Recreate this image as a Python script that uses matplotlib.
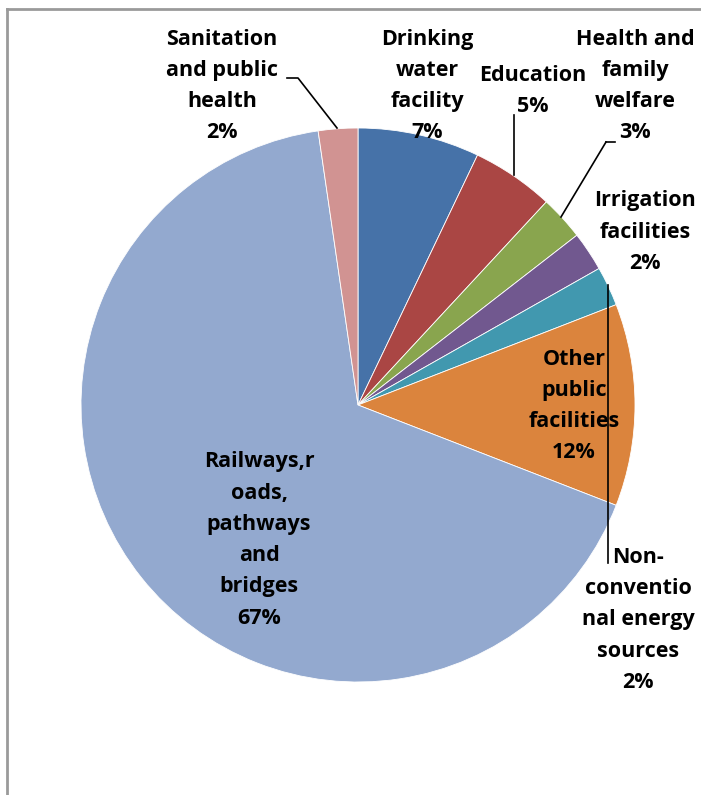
import matplotlib
matplotlib.use("Agg")
import matplotlib.pyplot as plt

categories = ["Drinking water facility", "Education", "Health and family welfare",
              "Irrigation facilities", "Non-conventional energy sources",
              "Other public facilities", "Railways,roads, pathways and bridges",
              "Sanitation and public health"]
values = [7.1, 4.8, 2.6, 2.3, 2.3, 11.8, 66.8, 2.3]
label_texts = ["Drinking\nwater\nfacility", "Education", "Health and\nfamily\nwelfare",
               "Irrigation\nfacilities", "Non-\nconventio\nnal energy\nsources",
               "Other\npublic\nfacilities", "Railways,r\noads,\npathways\nand\nbridges",
               "Sanitation\nand public\nhealth"]
colors = ["#4672A8", "#AA4644", "#89A54E", "#71588F", "#4198AF", "#DB843D", "#93A9CF", "#D19392"]

W, H = 701, 795
fig = plt.figure(figsize=(W / 100, H / 100), dpi=100)
ax = fig.add_axes([0, 0, 1, 1])

def Y(y):
    return H - y

cx, cy, r = 358, 405, 277
ax.pie(values, colors=colors, startangle=90, counterclock=False,
       center=(cx, Y(cy)), radius=r,
       wedgeprops=dict(edgecolor="white", linewidth=0.6))
ax.set_xlim(0, W)
ax.set_ylim(0, H)
ax.set_aspect("equal")
ax.axis("off")

total = sum(values)
pcts = [f"{round(v / total * 100):d}%" for v in values]

font = dict(family=["Open Sans", "DejaVu Sans"], fontweight="bold", fontsize=15.5,
            color="black", ha="center", va="center", linespacing=1.64)

label_pos = [(427, 86), (533, 91), (635, 86), (645, 232), (638, 620),
             (574, 406), (259, 540), (222, 86)]
for txt, pct, (x, y) in zip(label_texts, pcts, label_pos):
    ax.text(x, Y(y), txt + "\n" + pct, **font)

lc = dict(color="black", lw=1.2)
# Sanitation leader
ax.plot([287, 298, 337], [Y(78), Y(78), Y(128)], **lc)
# Education leader
ax.plot([514, 514], [Y(115), Y(175)], **lc)
# Health leader
ax.plot([606, 615], [Y(142), Y(142)], **lc)
ax.plot([606, 561], [Y(142), Y(217)], **lc)
# Non-conventional leader
ax.plot([608, 608], [Y(285), Y(563)], **lc)

# frame border
ax.plot([7, W], [Y(9), Y(9)], color="#9a9a9a", lw=2)
ax.plot([7, 7], [Y(9), 0], color="#9a9a9a", lw=2)

fig.savefig("out.png", dpi=100)
